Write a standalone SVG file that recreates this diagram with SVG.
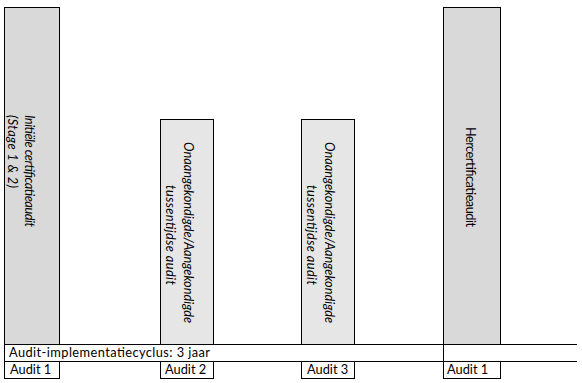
<svg xmlns="http://www.w3.org/2000/svg" width="582" height="383" viewBox="0 0 582 383">
<style>
.bar{stroke:#000;stroke-width:1}
.dark{fill:#d9d9d9}
.light{fill:#e6e6e6}
.cell{fill:#fff;stroke:#000;stroke-width:1}
.t{font-family:Lato,"Noto Sans",sans-serif;font-size:12.8px;fill:#000}
.i{font-style:italic}
.ln{stroke:#000;stroke-width:1;fill:none}
</style>
<rect width="582" height="383" fill="#fff"/>
<g id="bar1">
<rect class="bar dark" x="4.5" y="7.5" width="55" height="337"/>
<text class="t i" transform="translate(25,115) rotate(90)" textLength="112">Initiële certificatieaudit</text>
<text class="t i" transform="translate(8,115) rotate(90)" textLength="73">(Stage 1 &amp; 2)</text>
</g>
<g id="bar2">
<rect class="bar light" x="160.5" y="119.5" width="53" height="225"/>
<text class="t i" transform="translate(184,142) rotate(90)" textLength="181">Onaangekondigde/Aangekondigde</text>
<text class="t i" transform="translate(166,185) rotate(90)" textLength="100">tussentijdse audit</text>
</g>
<g id="bar3">
<rect class="bar light" x="301.5" y="119.5" width="53" height="225"/>
<text class="t i" transform="translate(325,142) rotate(90)" textLength="181">Onaangekondigde/Aangekondigde</text>
<text class="t i" transform="translate(307,185) rotate(90)" textLength="100">tussentijdse audit</text>
</g>
<g id="bar4">
<rect class="bar dark" x="443.5" y="7.5" width="57" height="337"/>
<text class="t" transform="translate(466,127) rotate(90)" textLength="100">Hercertificatieaudit</text>
</g>
<g id="connectors">
<line class="ln" x1="4.5" y1="344.5" x2="577" y2="344.5"/>
<line class="ln" x1="4.5" y1="361.5" x2="577" y2="361.5"/>
<line class="ln" x1="4.5" y1="344.5" x2="4.5" y2="361.5"/>
<line class="ln" x1="443.5" y1="344.5" x2="443.5" y2="361.5"/>
</g>
<g id="cycle">
<text class="t" x="9" y="357" textLength="201">Audit-implementatiecyclus: 3 jaar</text>
</g>
<g id="audit1">
<rect class="cell" x="4.5" y="361.5" width="55" height="17"/>
<text class="t" x="10" y="374">Audit 1</text>
</g>
<g id="audit2">
<rect class="cell" x="160.5" y="361.5" width="53" height="17"/>
<text class="t" x="165" y="374">Audit 2</text>
</g>
<g id="audit3">
<rect class="cell" x="301.5" y="361.5" width="53" height="17"/>
<text class="t" x="307" y="374">Audit 3</text>
</g>
<g id="audit4">
<rect class="cell" x="443.5" y="361.5" width="57" height="17"/>
<text class="t" x="447" y="374">Audit 1</text>
</g>
</svg>
